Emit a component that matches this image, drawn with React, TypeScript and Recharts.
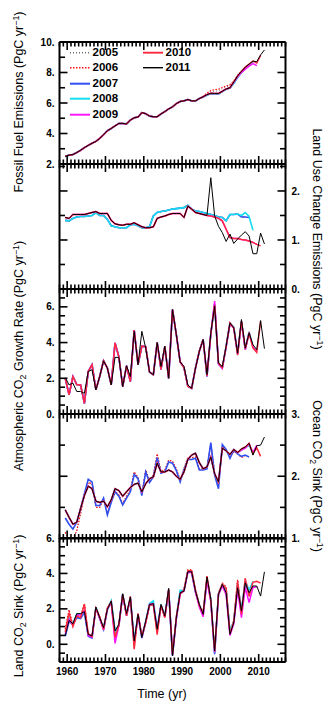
import React from 'react';
import { LineChart, Line, XAxis, YAxis, Legend } from 'recharts';

const YEARS = Array.from({ length: 53 }, (_, i) => 1959 + i); // 1959..2011

// Fossil fuel emissions (PgC/yr)
const ffCommon = [2.50, 2.58, 2.62, 2.75, 2.90, 3.07, 3.22, 3.36, 3.48, 3.68, 3.92, 4.18, 4.33, 4.50, 4.66, 4.66, 4.63, 4.88, 5.03, 5.08, 5.37, 5.30, 5.14, 5.10, 5.10, 5.28, 5.44, 5.61, 5.75, 5.96, 6.10, 6.14, 6.23, 6.14, 6.14, 6.29];
const ffTail2005 = [6.43, 6.60, 6.75, 6.78, 6.80, 6.95, 7.05, 7.12, 7.42, 7.80, 8.06];
const ffTail2006 = [6.45, 6.65, 6.82, 6.88, 6.90, 7.02, 7.12, 7.20, 7.45, 7.82, 8.08, 8.30];
const ffTail2007 = [6.40, 6.52, 6.60, 6.58, 6.60, 6.75, 6.90, 6.98, 7.30, 7.68, 8.00, 8.25, 8.48];
const ffTail2008 = [6.40, 6.52, 6.60, 6.58, 6.60, 6.75, 6.90, 6.98, 7.30, 7.68, 8.00, 8.25, 8.50, 8.70];
const ffTail2009 = [6.41, 6.55, 6.64, 6.63, 6.63, 6.77, 6.92, 7.00, 7.36, 7.72, 8.00, 8.22, 8.42, 8.58, 8.45];
const ffTail2010 = [6.41, 6.55, 6.64, 6.63, 6.63, 6.77, 6.92, 7.00, 7.38, 7.78, 8.08, 8.35, 8.55, 8.75, 8.62, 9.12];
const ffTail2011 = [6.41, 6.55, 6.64, 6.63, 6.63, 6.77, 6.92, 7.00, 7.38, 7.78, 8.08, 8.35, 8.55, 8.75, 8.71, 9.15, 9.48];

// Land use change emissions
const lucEarlyA = [1.40, 1.39, 1.44, 1.47, 1.48, 1.48, 1.49, 1.50, 1.56, 1.50, 1.50, 1.42, 1.29, 1.27, 1.25, 1.25, 1.25, 1.31, 1.32, 1.29, 1.25, 1.25, 1.27, 1.49, 1.56, 1.58, 1.59, 1.61, 1.63, 1.64, 1.65, 1.66, 1.71, 1.63, 1.59, 1.58, 1.56, 1.54, 1.52, 1.50, 1.47, 1.46, 1.39, 1.52, 1.52, 1.53];
const lucTail2007 = [1.47, 1.47, 1.46];
const lucTail2008 = [1.50, 1.56, 1.48, 1.20];
const lucEarlyB = [1.46, 1.44, 1.52, 1.52, 1.52, 1.52, 1.54, 1.56, 1.58, 1.54, 1.54, 1.54, 1.40, 1.33, 1.31, 1.30, 1.32, 1.32, 1.35, 1.31, 1.27, 1.25, 1.25, 1.27, 1.44, 1.47, 1.49, 1.52, 1.54, 1.54, 1.54, 1.46, 1.69, 1.63, 1.56, 1.54, 1.52, 1.50];
const lucTail2010 = [1.49, 1.47, 1.44, 1.39, 1.22, 1.05, 1.03, 1.03, 1.01, 1.00, 0.98, 0.95, 0.91, 0.88];
const lucTail2011 = [2.27, 1.49, 1.28, 1.15, 0.97, 1.12, 0.93, 1.02, 1.10, 1.17, 1.08, 0.72, 0.72, 1.14, 0.92];

// Atmospheric CO2 growth rate
const atmEarly = [2.00, 1.07, 2.10, 1.65, 1.63, 0.60, 2.38, 2.76, 1.35, 2.10, 2.98, 2.57, 1.63, 3.98, 3.20, 1.54, 2.70, 1.82, 4.70, 2.76, 3.80, 3.77, 2.35, 2.20, 4.00, 2.50, 3.79, 2.00, 5.85, 4.45, 2.91, 2.60, 1.55, 1.44, 2.57, 3.51, 4.17];
const atmTail2008 = [2.10, 4.48, 6.15, 2.82, 2.58, 3.78, 5.08, 4.85, 3.38, 5.18, 3.62, 4.60, 3.80];
const atmTail2009 = [2.10, 4.45, 6.32, 2.80, 2.55, 3.75, 5.05, 4.80, 3.35, 5.15, 3.60, 4.55, 3.75, 3.50];
const atmTail2010 = [2.15, 4.50, 6.10, 2.85, 2.60, 3.79, 5.10, 4.82, 3.30, 5.20, 3.65, 4.50, 3.70, 3.45, 5.20];
const atm2011 = [2.04, 1.63, 1.73, 1.26, 1.26, 1.16, 2.38, 2.48, 1.35, 2.10, 2.98, 2.57, 1.63, 3.17, 3.17, 1.54, 2.70, 2.10, 4.63, 2.76, 4.63, 3.70, 2.35, 2.20, 4.00, 2.66, 3.79, 2.00, 5.85, 4.45, 2.91, 2.66, 1.63, 1.44, 2.57, 3.51, 4.17, 2.20, 4.54, 6.04, 2.85, 2.66, 3.79, 5.10, 4.82, 3.41, 5.29, 3.70, 4.54, 3.88, 3.60, 5.23, 3.66];

// Ocean CO2 sink
const oceanOld = [1.10, 0.98, 1.00, 1.12, 1.40, 1.70, 1.90, 1.88, 1.50, 1.50, 1.64, 1.40, 1.60, 1.76, 1.70, 1.56, 1.68, 1.78, 2.07, 1.98, 1.72, 2.10, 1.93, 2.02, 2.36, 2.08, 2.10, 2.26, 2.24, 2.12, 1.94, 2.13, 2.30, 2.30, 2.31, 2.12, 2.12, 2.14, 2.52, 2.05, 1.84, 2.48, 2.42, 2.30, 2.40, 2.36, 2.30, 2.33];
const ocean2007 = [1.33, 1.23, 1.15, 1.26, 1.48, 1.72, 1.95, 1.91, 1.53, 1.53, 1.65, 1.38, 1.58, 1.75, 1.68, 1.54, 1.65, 1.75, 2.03, 1.96, 1.69, 2.07, 1.90, 1.99, 2.30, 2.05, 2.07, 2.23, 2.21, 2.09, 1.91, 2.11, 2.27, 2.27, 2.29, 2.10, 2.10, 2.12, 2.54, 2.02, 1.80, 2.51, 2.43, 2.29, 2.42, 2.36, 2.32, 2.34, 2.31];
const oceanEarlyB = [1.46, 1.34, 1.23, 1.26, 1.48, 1.69, 1.84, 1.80, 1.60, 1.58, 1.60, 1.51, 1.62, 1.80, 1.77, 1.68, 1.75, 1.82, 1.87, 1.89, 1.75, 1.88, 1.96, 1.99, 2.21, 2.07, 2.07, 2.10, 2.07, 2.00, 1.95, 2.07, 2.27, 2.34, 2.37, 2.22, 2.12, 2.15, 2.31, 2.04, 1.91, 2.45, 2.41, 2.35, 2.43, 2.38];
const oceanTail2008 = [2.42, 2.46, 2.50, 2.37];
const oceanTail2009 = [2.42, 2.45, 2.52, 2.38, 2.50];
const oceanTail2010 = [2.44, 2.47, 2.53, 2.36, 2.46, 2.32];
const oceanTail2011 = [2.44, 2.47, 2.53, 2.34, 2.49, 2.50, 2.63];

// Land CO2 sink
const landOld = [0.85, 1.95, 1.05, 1.65, 1.55, 2.30, 0.55, 0.50, 2.05, 1.55, 0.90, 2.05, 2.40, 0.45, 1.15, 2.85, 1.65, 2.70, -0.20, 1.75, 0.50, 1.25, 2.25, 2.30, 0.65, 2.25, 1.55, 3.15, -0.55, 1.55, 2.95, 3.10, 4.20, 4.20, 3.10, 2.25, 1.80, 3.80, 2.55, -0.30, 2.90, 3.45, 3.25, 0.70, 1.35, 3.65, 1.85, 3.80];
const land2007 = [0.45, 1.30, 1.10, 1.50, 1.45, 1.80, 0.45, 0.35, 2.05, 1.45, 0.85, 1.95, 2.40, 0.70, 1.05, 2.80, 1.60, 2.60, 0.10, 1.65, 0.35, 1.25, 2.20, 2.25, 0.80, 2.20, 1.55, 3.05, -0.64, 1.45, 2.95, 3.05, 4.10, 4.05, 2.95, 2.20, 1.65, 3.70, 2.50, -0.56, 2.80, 3.35, 2.95, 0.65, 1.25, 3.30, 1.85, 3.45, 2.85];
const land2008 = [0.50, 1.50, 1.15, 1.70, 1.70, 1.85, 0.55, 0.45, 2.10, 1.50, 0.90, 2.00, 2.45, 0.70, 1.10, 2.85, 1.70, 2.65, 0.15, 1.70, 0.40, 1.30, 2.30, 2.45, 0.85, 2.25, 1.60, 3.10, -0.62, 1.50, 3.05, 3.00, 4.10, 4.10, 3.00, 2.25, 1.70, 3.70, 2.55, -0.45, 2.85, 3.35, 3.10, 0.75, 1.30, 3.40, 1.95, 3.60, 3.05, 3.55];
const land2009 = [0.55, 1.40, 1.10, 1.65, 1.65, 1.90, 0.50, 0.40, 2.05, 1.45, 0.80, 2.00, 2.35, 0.05, 1.05, 2.80, 1.65, 2.60, 0.05, 1.65, 0.40, 1.25, 2.25, 2.30, 0.80, 2.20, 1.55, 3.05, -0.60, 1.45, 2.85, 3.00, 4.05, 4.05, 2.95, 2.10, 1.55, 3.60, 2.40, -0.45, 2.80, 3.30, 2.80, 0.50, 1.15, 3.05, 1.50, 3.20, 2.35, 3.20, 3.25];
const land2010 = [0.70, 1.78, 1.00, 1.60, 1.50, 2.25, 0.60, 0.45, 2.05, 1.55, 0.85, 2.05, 2.40, 0.38, 1.10, 2.80, 1.60, 2.70, -0.28, 1.75, 0.45, 1.20, 2.20, 2.25, 0.55, 2.20, 1.50, 3.10, -0.60, 1.55, 2.85, 3.05, 4.15, 4.15, 3.05, 2.20, 1.75, 3.85, 2.50, -0.40, 2.85, 3.40, 3.15, 0.60, 1.30, 3.55, 1.70, 3.70, 2.70, 3.50, 3.55, 3.45];
const land2011 = [0.47, 1.35, 1.16, 1.73, 1.73, 1.84, 0.56, 0.47, 2.10, 1.50, 0.94, 1.97, 2.44, 0.75, 1.13, 2.85, 1.73, 2.67, 0.19, 1.69, 0.38, 1.31, 2.25, 2.29, 0.85, 2.25, 1.60, 3.15, -0.66, 1.50, 2.91, 3.00, 4.09, 4.09, 3.00, 2.25, 1.69, 3.80, 2.54, -0.38, 2.82, 3.38, 2.91, 0.56, 1.22, 3.19, 1.88, 3.47, 2.91, 3.29, 3.29, 2.72, 4.09];

// ticks
const X_MINOR = Array.from({ length: 60 }, (_, i) => 1958 + i);
const X_LABELS = [1960, 1970, 1980, 1990, 2000, 2010];
const FF_TICKS = [2, 3, 4, 5, 6, 7, 8, 9, 10];
const FF_LABELS = [2, 4, 6, 8, 10];
const LUC_TICKS = [0, 0.5, 1, 1.5, 2, 2.5];
const LUC_LABELS = [0, 1, 2];
const ATM_TICKS = [0, 0.5, 1, 1.5, 2, 2.5, 3, 3.5, 4, 4.5, 5, 5.5, 6, 6.5, 7];
const ATM_LABELS = [0, 2, 4, 6];
const OCEAN_TICKS = [1, 1.5, 2, 2.5, 3];
const OCEAN_LABELS = [1, 2, 3];
const LAND_TICKS = [-1, -0.5, 0, 0.5, 1, 1.5, 2, 2.5, 3, 3.5, 4, 4.5, 5, 5.5, 6];
const LAND_LABELS = [0, 2, 4, 6];

const VERSIONS = [
  { key: 'v2005', name: '2005', color: '#6e6e6e', width: 1, dash: '1 2' },
  { key: 'v2006', name: '2006', color: '#ff1010', width: 1.2, dash: '1.5 1.5' },
  { key: 'v2007', name: '2007', color: '#2f4ff0', width: 1.6 },
  { key: 'v2008', name: '2008', color: '#16dcf0', width: 1.6 },
  { key: 'v2009', name: '2009', color: '#ff10ff', width: 1.5 },
  { key: 'v2010', name: '2010', color: '#ff2a40', width: 1.5 },
  { key: 'v2011', name: '2011', color: '#000000', width: 1 },
];

const FONT = '"Liberation Sans", Arial, Helvetica, sans-serif';

type Panel = {
  top: number;
  height: number;
  domain: [number, number];
  ticks: number[];
  labels: number[];
  labelSide: 'left' | 'right';
  series: Record<string, number[]>;
  xLabels?: boolean;
  legend?: boolean;
};

const PANELS: Panel[] = [
  {
    top: 41.5, height: 122, domain: [2, 10], ticks: FF_TICKS, labels: FF_LABELS, labelSide: 'left', legend: true,
    series: {
      v2005: [...ffCommon, ...ffTail2005], v2006: [...ffCommon, ...ffTail2006], v2007: [...ffCommon, ...ffTail2007],
      v2008: [...ffCommon, ...ffTail2008], v2009: [...ffCommon, ...ffTail2009], v2010: [...ffCommon, ...ffTail2010],
      v2011: [...ffCommon, ...ffTail2011],
    },
  },
  {
    top: 163.5, height: 125, domain: [0, 2.55], ticks: LUC_TICKS, labels: LUC_LABELS, labelSide: 'right',
    series: {
      v2005: [...lucEarlyA, ...lucTail2007.slice(0, 1)], v2006: [...lucEarlyA, ...lucTail2007.slice(0, 2)],
      v2007: [...lucEarlyA, ...lucTail2007], v2008: [...lucEarlyA, ...lucTail2008],
      v2009: [...lucEarlyB, ...lucTail2010.slice(0, 13)], v2010: [...lucEarlyB, ...lucTail2010],
      v2011: [...lucEarlyB, ...lucTail2011],
    },
  },
  {
    top: 288.5, height: 125, domain: [0, 7], ticks: ATM_TICKS, labels: ATM_LABELS, labelSide: 'left',
    series: {
      v2005: [...atmEarly, ...atmTail2008.slice(0, 10)], v2006: [...atmEarly, ...atmTail2008.slice(0, 11)],
      v2007: [...atmEarly, ...atmTail2008.slice(0, 12)], v2008: [...atmEarly, ...atmTail2008],
      v2009: [...atmEarly, ...atmTail2009], v2010: [...atmEarly, ...atmTail2010], v2011: atm2011,
    },
  },
  {
    top: 413.5, height: 124.5, domain: [1, 3], ticks: OCEAN_TICKS, labels: OCEAN_LABELS, labelSide: 'right',
    series: {
      v2005: oceanOld.slice(0, 47), v2006: oceanOld, v2007: ocean2007,
      v2008: [...oceanEarlyB, ...oceanTail2008], v2009: [...oceanEarlyB, ...oceanTail2009],
      v2010: [...oceanEarlyB, ...oceanTail2010], v2011: [...oceanEarlyB, ...oceanTail2011],
    },
  },
  {
    top: 538, height: 124, domain: [-1, 6], ticks: LAND_TICKS, labels: LAND_LABELS, labelSide: 'left', xLabels: true,
    series: {
      v2005: landOld.slice(0, 47), v2006: landOld, v2007: land2007, v2008: land2008,
      v2009: land2009, v2010: land2010, v2011: land2011,
    },
  },
];

function buildRows(series: Record<string, number[]>) {
  return YEARS.map((year, i) => {
    const row: Record<string, number | undefined> = { t: year + 0.5 };
    Object.keys(series).forEach((k) => {
      row[k] = series[k][i];
    });
    return row;
  });
}

const makeXTick = (side: 'top' | 'bottom', withLabels: boolean) => (p: any) => {
  const v = p.payload.value;
  const major = X_LABELS.includes(v);
  const len = major ? 8 : 4.5;
  const dir = side === 'bottom' ? -1 : 1;
  return (
    <g>
      <line x1={p.x} x2={p.x} y1={p.y} y2={p.y + dir * len} stroke="#000" strokeWidth={1.6} />
      {withLabels && major && (
        <text x={p.x} y={p.y + 12.5} textAnchor="middle" fontSize={10} fontWeight="bold" fontFamily={FONT} fill="#000">
          {v}
        </text>
      )}
    </g>
  );
};

const makeYTick = (side: 'left' | 'right', labels: number[], showLabels: boolean) => (p: any) => {
  const v = p.payload.value;
  const major = labels.includes(v);
  const len = major ? 8 : 5.5;
  const dir = side === 'left' ? 1 : -1;
  return (
    <g>
      <line x1={p.x} x2={p.x + dir * len} y1={p.y} y2={p.y} stroke="#000" strokeWidth={1.6} />
      {showLabels && major && (
        <text
          x={side === 'left' ? p.x - 5 : p.x + 6}
          y={p.y}
          dy="0.36em"
          textAnchor={side === 'left' ? 'end' : 'start'}
          fontSize={10}
          fontWeight="bold"
          fontFamily={FONT}
          fill="#000"
        >
          {`${v}.`}
        </text>
      )}
    </g>
  );
};

const LegendBox = () => (
  <div style={{ position: 'relative', width: 140, height: 80, fontFamily: FONT }}>
    {VERSIONS.map((v, i) => {
      const col = i < 5 ? 0 : 1;
      const row = i < 5 ? i : i - 5;
      return (
        <div key={v.key} style={{ position: 'absolute', left: col * 73, top: row * 15.4, height: 15.4, display: 'flex', alignItems: 'center' }}>
          <svg width={20} height={15.4} style={{ display: 'block' }}>
            <line x1={0} x2={20} y1={7.7} y2={7.7} stroke={v.color} strokeWidth={v.width + 0.4} strokeDasharray={v.dash} />
          </svg>
          <span style={{ marginLeft: 2.5, fontSize: 11.5, fontWeight: 'bold', color: '#000', lineHeight: '15.4px' }}>{v.name}</span>
        </div>
      );
    })}
  </div>
);

function PanelChart({ panel }: { panel: Panel }) {
  const rows = buildRows(panel.series);
  const axisLine = { stroke: '#000', strokeWidth: 2 };
  return (
    <div style={{ position: 'absolute', left: 0, top: panel.top - 20 }}>
      <LineChart width={327} height={panel.height + 40} data={rows} margin={{ top: 0, right: 0, bottom: 0, left: 0 }}>
        {VERSIONS.map((v) => (
          <Line
            key={v.key}
            xAxisId="b"
            yAxisId="l"
            type="linear"
            dataKey={v.key}
            name={v.name}
            stroke={v.color}
            strokeWidth={v.width}
            strokeDasharray={v.dash}
            dot={false}
            activeDot={false}
            isAnimationActive={false}
          />
        ))}
        <XAxis
          xAxisId="b" dataKey="t" type="number" orientation="bottom" domain={[1958, 2017]} allowDataOverflow
          ticks={X_MINOR} interval={0} height={20} tickSize={0} tickMargin={0} tickLine={false} axisLine={axisLine}
          tick={makeXTick('bottom', !!panel.xLabels)}
        />
        <XAxis
          xAxisId="t" dataKey="t" type="number" orientation="top" domain={[1958, 2017]} allowDataOverflow
          ticks={X_MINOR} interval={0} height={20} tickSize={0} tickMargin={0} tickLine={false} axisLine={axisLine}
          tick={makeXTick('top', false)}
        />
        <YAxis
          yAxisId="l" type="number" orientation="left" domain={panel.domain} allowDataOverflow width={59.5}
          ticks={panel.ticks} interval={0} tickSize={0} tickMargin={0} tickLine={false} axisLine={axisLine}
          tick={makeYTick('left', panel.labels, panel.labelSide === 'left')}
        />
        <YAxis
          yAxisId="r" type="number" orientation="right" domain={panel.domain} allowDataOverflow width={41.5}
          ticks={panel.ticks} interval={0} tickSize={0} tickMargin={0} tickLine={false} axisLine={axisLine}
          tick={makeYTick('right', panel.labels, panel.labelSide === 'right')}
        />
        {panel.legend && (
          <Legend
            layout="vertical"
            align="center"
            verticalAlign="middle"
            wrapperStyle={{ left: 70, top: 23.5, width: 140, height: 80 }}
            content={() => <LegendBox />}
          />
        )}
      </LineChart>
    </div>
  );
}

const titleStyle: React.CSSProperties = {
  position: 'absolute',
  whiteSpace: 'nowrap',
  fontFamily: FONT,
  fontSize: 12.5,
  color: '#000',
  lineHeight: '14px',
};
const supStyle: React.CSSProperties = { fontSize: '0.7em', position: 'relative', top: '-0.5em' };
const subStyle: React.CSSProperties = { fontSize: '0.7em', position: 'relative', top: '0.3em' };

const unit = (
  <>
    (PgC yr<span style={supStyle}>−1</span>)
  </>
);
const co2 = (
  <>
    CO<span style={subStyle}>2</span>
  </>
);

export default function App() {
  return (
    <div style={{ position: 'absolute', left: 0, top: 0, width: 327, height: 704, background: '#fff', overflow: 'hidden' }}>
      {PANELS.map((p, i) => (
        <PanelChart key={i} panel={p} />
      ))}
      <div style={{ ...titleStyle, left: 18.5, top: 101.5, transform: 'translate(-50%, -50%) rotate(-90deg)' }}>
        Fossil Fuel Emissions {unit}
      </div>
      <div style={{ ...titleStyle, left: 18.5, top: 356, transform: 'translate(-50%, -50%) rotate(-90deg)' }}>
        Atmospheric {co2} Growth Rate {unit}
      </div>
      <div style={{ ...titleStyle, left: 18.5, top: 606, transform: 'translate(-50%, -50%) rotate(-90deg)' }}>
        Land {co2} Sink {unit}
      </div>
      <div style={{ ...titleStyle, left: 316, top: 238.5, transform: 'translate(-50%, -50%) rotate(90deg)' }}>
        Land Use Change Emissions {unit}
      </div>
      <div style={{ ...titleStyle, left: 316, top: 475.5, transform: 'translate(-50%, -50%) rotate(90deg)' }}>
        Ocean {co2} Sink {unit}
      </div>
      <div style={{ ...titleStyle, left: 162, top: 694, transform: 'translate(-50%, -50%)' }}>Time (yr)</div>
    </div>
  );
}
